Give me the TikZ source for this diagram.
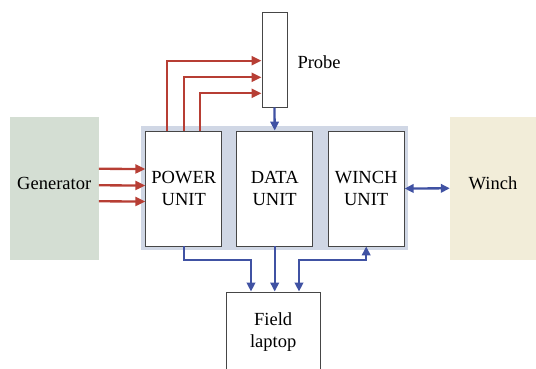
\documentclass[tikz,border=0pt]{standalone}
\usepackage{fontspec}
\setmainfont{Liberation Serif}
\usetikzlibrary{arrows.meta, calc}

\definecolor{pwrred}{RGB}{183,62,52}
\definecolor{datblue}{RGB}{64,82,163}
\definecolor{rackgray}{RGB}{208,215,229}
\definecolor{genfill}{RGB}{212,222,211}
\definecolor{winchfill}{RGB}{242,237,217}
\definecolor{edge}{RGB}{70,70,70}

\begin{document}
\begin{tikzpicture}[x=1pt, y=1pt,
                    font=\fontsize{18.5}{22}\selectfont,
                    unit/.style={rectangle, draw=edge, fill=white, line width=0.9pt, minimum width=76pt, minimum height=115pt, align=center, inner sep=0pt},
                    ext/.style={rectangle, minimum width=89pt, minimum height=143pt, text height=12pt, text depth=10pt, inner sep=0pt},
                    pwr_line/.style={->, >={Triangle[length=10pt,width=9pt]}, line width=2.3pt, pwrred},
                    data_line/.style={->, >={Triangle[length=9pt,width=8.5pt]}, line width=2.3pt, datblue},
                    data_both/.style={<->, >={Triangle[length=9pt,width=8.5pt]}, line width=2.3pt, datblue}]

    \useasboundingbox (0,0) rectangle (536,368);

    \node[rectangle, fill=rackgray, minimum width=267pt, minimum height=124pt] (rack) at (274.3,180) {};

    \node[ext, fill=genfill] (gen) at (54.2,179.7) {Generator};
    \node[ext, fill=winchfill, minimum width=86pt] (winch) at (493,179.7) {Winch};

    \node[unit] (power) at (183.8,179.5) {POWER\\UNIT};
    \node[unit] (data) at (274.7,179.5) {DATA\\UNIT};
    \node[unit] (winchu) at (366.2,179.5) {WINCH\\UNIT};

    \node[unit, minimum width=25pt, minimum height=95pt] (probe) at (274.5,308.5) {};
    \node[anchor=west] (probelbl) at (294,306) {Probe};

    \node[unit, minimum width=94pt, minimum height=80pt] (laptop) at (273.2,36) {Field\\laptop};

    % power in from the generator
    \draw[pwr_line] ([yshift=19.5pt]gen.east) -- ([yshift=19.5pt]power.west);
    \draw[pwr_line] ([yshift=3pt]gen.east) -- ([yshift=3pt]power.west);
    \draw[pwr_line] ([yshift=-13pt]gen.east) -- ([yshift=-13pt]power.west);

    % power out to the probe
    \draw[pwr_line] ([xshift=-17pt]power.north) |- ([yshift=-1.2pt]probe.west);
    \draw[pwr_line] (power.north) |- ([yshift=-17.8pt]probe.west);
    \draw[pwr_line] ([xshift=16.3pt]power.north) |- ([yshift=-33.8pt]probe.west);

    % data links
    \draw[data_line] (probe.south) -- (data.north);
    \draw[data_both] (winchu.east) -- (winch.west);
    \draw[data_line] (power.south) -- ++(0,-13.3) -| ([xshift=-22.2pt]laptop.north);
    \draw[data_line] (data.south) -- (data.south |- laptop.north);
    \draw[data_both] ([xshift=25.8pt]laptop.north) |- ([yshift=-13.3pt]winchu.south) -- (winchu.south);
\end{tikzpicture}
\end{document}
